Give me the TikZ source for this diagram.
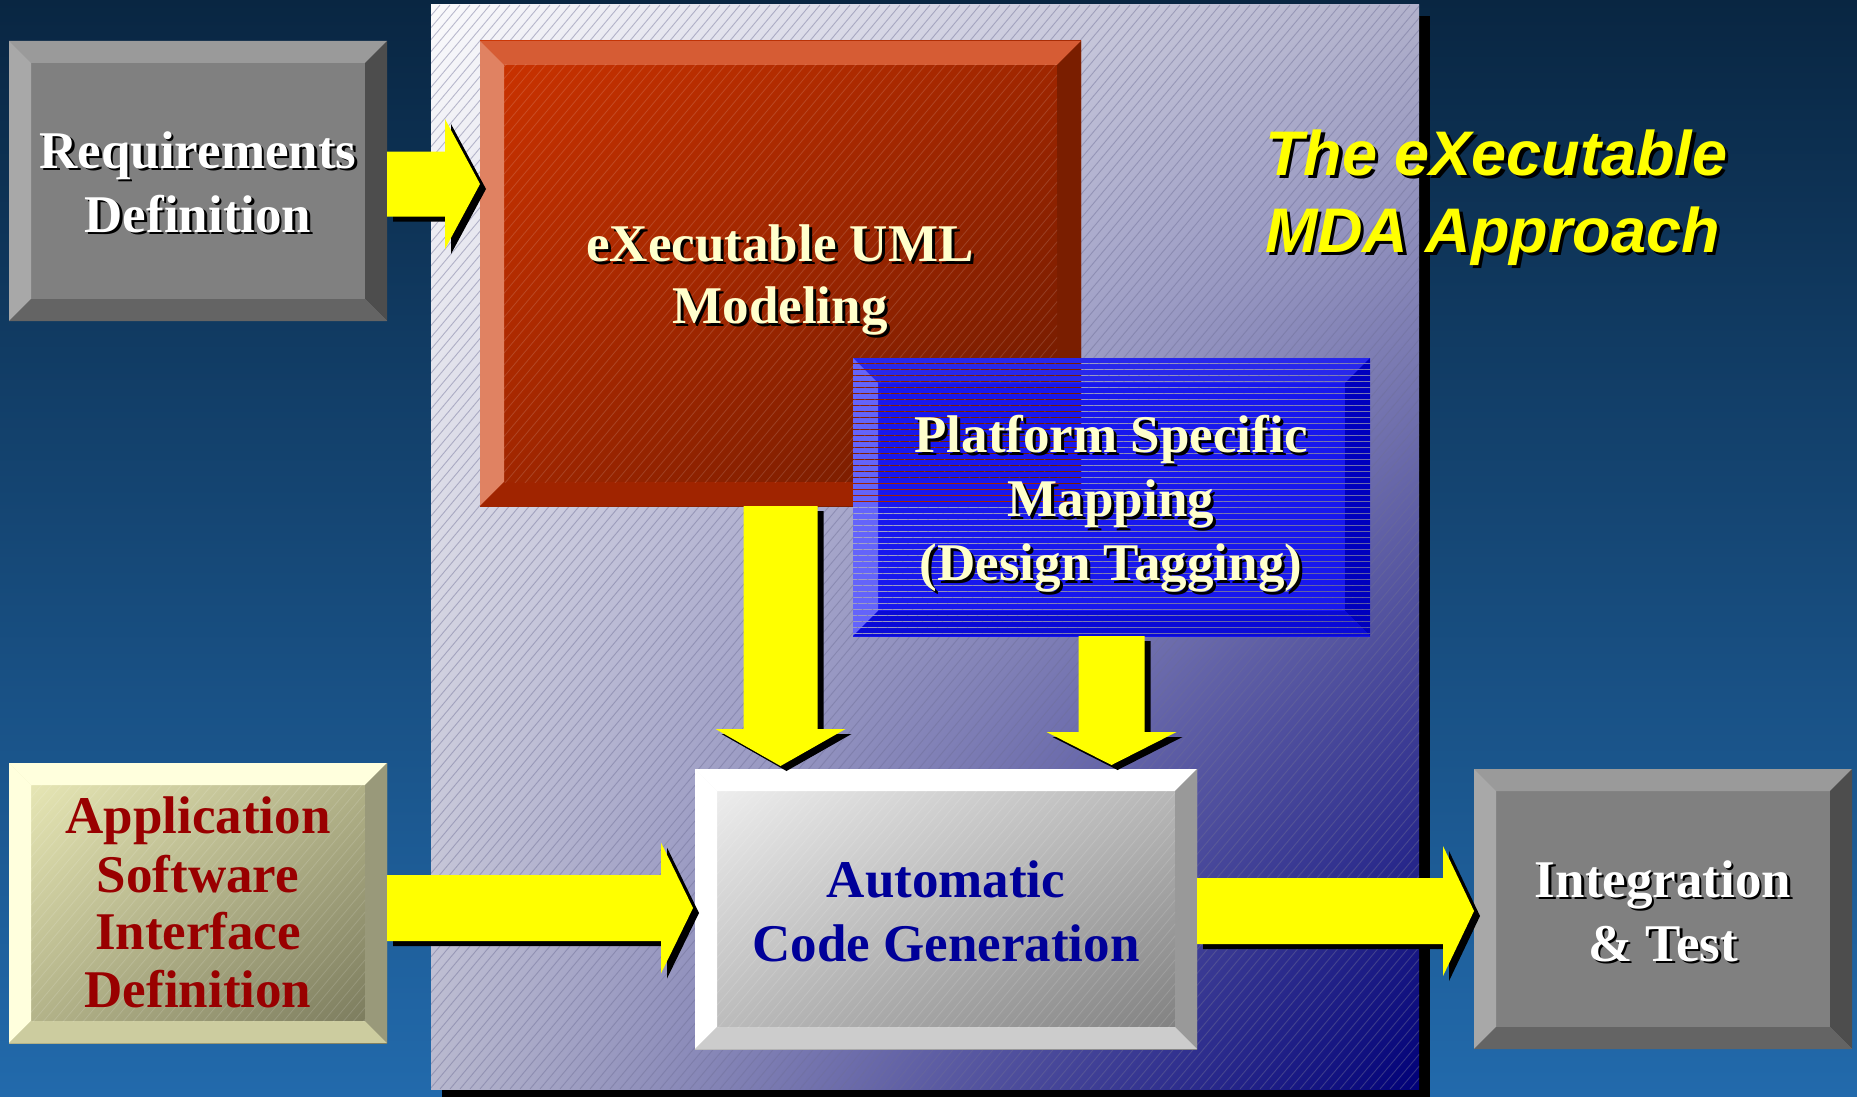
\documentclass[tikz,border=0pt]{standalone}
\usepackage{fontspec}
\setmainfont{Liberation Serif}
\newfontfamily\titlesans{Liberation Sans}
\usetikzlibrary{calc,shadings}

% palette
\definecolor{bgtop}{RGB}{9,38,66}
\definecolor{bgbottom}{RGB}{34,106,172}
\definecolor{panelUL}{RGB}{250,250,252}
\definecolor{panelUR}{RGB}{178,178,204}
\definecolor{panelLL}{RGB}{184,184,206}
\definecolor{panelLR}{RGB}{0,0,120}
\definecolor{hatchcol}{RGB}{110,110,150}
\definecolor{arrowyellow}{RGB}{255,255,0}
\definecolor{paleyellow}{RGB}{255,255,204}
\definecolor{codeblue}{RGB}{0,0,153}
\definecolor{asidred}{RGB}{153,0,0}
% grey boxes
\definecolor{greyface}{RGB}{128,128,128}
\definecolor{greytop}{RGB}{154,154,154}
\definecolor{greyleft}{RGB}{168,168,168}
\definecolor{greyright}{RGB}{77,77,77}
\definecolor{greybottom}{RGB}{100,100,100}
% red box
\definecolor{redUL}{RGB}{204,51,0}
\definecolor{redMid}{RGB}{160,38,0}
\definecolor{redLR}{RGB}{100,24,0}
\definecolor{redtop}{RGB}{214,92,52}
\definecolor{redleft}{RGB}{224,130,98}
\definecolor{redright}{RGB}{122,30,0}
\definecolor{redbottom}{RGB}{160,36,0}
% blue box
\definecolor{blueface}{RGB}{24,24,238}
\definecolor{bluetop}{RGB}{40,40,235}
\definecolor{blueleft}{RGB}{100,100,250}
\definecolor{blueright}{RGB}{0,0,190}
\definecolor{bluebottom}{RGB}{10,10,215}
% white box
\definecolor{whiteUL}{RGB}{244,244,244}
\definecolor{whiteMid}{RGB}{186,186,186}
\definecolor{whiteLR}{RGB}{122,122,122}
\definecolor{whitetop}{RGB}{255,255,255}
\definecolor{whiteleft}{RGB}{255,255,255}
\definecolor{whiteright}{RGB}{153,153,153}
\definecolor{whitebottom}{RGB}{204,204,204}
% cream box
\definecolor{creamUL}{RGB}{238,238,187}
\definecolor{creamMid}{RGB}{178,178,136}
\definecolor{creamLR}{RGB}{116,116,88}
\definecolor{creamtop}{RGB}{255,255,221}
\definecolor{creamleft}{RGB}{255,255,221}
\definecolor{creamright}{RGB}{153,153,122}
\definecolor{creambottom}{RGB}{204,204,159}

\tikzset{
  x=1pt, y=-1pt,
  boxframe/.style={shape=rectangle, inner sep=0pt, outer sep=0pt, draw=none},
  boxtext/.style={inner sep=0pt, outer sep=0pt, anchor=base,
    font=\fontsize{53}{60}\selectfont\bfseries},
  titletext/.style={inner sep=0pt, outer sep=0pt, anchor=base west, text=arrowyellow,
    font=\titlesans\fontsize{63}{70}\selectfont\bfseries\itshape},
  grey face/.style={fill=greyface},
  grey top/.style={fill=greytop},
  grey left/.style={fill=greyleft},
  grey right/.style={fill=greyright},
  grey bottom/.style={fill=greybottom},
  red face/.style={upper left=redUL, upper right=redMid, lower left=redMid, lower right=redLR},
  red top/.style={fill=redtop},
  red left/.style={fill=redleft},
  red right/.style={fill=redright},
  red bottom/.style={fill=redbottom},
  white face/.style={upper left=whiteUL, upper right=whiteMid, lower left=whiteMid, lower right=whiteLR},
  white top/.style={fill=whitetop},
  white left/.style={fill=whiteleft},
  white right/.style={fill=whiteright},
  white bottom/.style={fill=whitebottom},
  cream face/.style={upper left=creamUL, upper right=creamMid, lower left=creamMid, lower right=creamLR},
  cream top/.style={fill=creamtop},
  cream left/.style={fill=creamleft},
  cream right/.style={fill=creamright},
  cream bottom/.style={fill=creambottom},
  panel hatch/.style={draw=hatchcol, draw opacity=0.45, line width=0.9pt},
  face hatch/.style={draw=white, draw opacity=0.14, line width=0.8pt},
}

% text with a drop shadow behind it
\newcommand\shadowed[2]{\rlap{\kern#1\raisebox{-#1}{\color{black}#2}}#2}

% bevelled box: name, centre, width, height, bevel, kind
\newcommand\bevelbox[6]{%
  \node[boxframe, minimum width=#3, minimum height=#4] (#1) at (#2) {};
  \path[#6 face] (#1.north west) rectangle (#1.south east);
  \fill[#6 top] (#1.north west) -- (#1.north east) -- ([shift={(-#5,#5)}]#1.north east)
    -- ([shift={(#5,#5)}]#1.north west) -- cycle;
  \fill[#6 left] (#1.north west) -- ([shift={(#5,#5)}]#1.north west)
    -- ([shift={(#5,-#5)}]#1.south west) -- (#1.south west) -- cycle;
  \fill[#6 right] (#1.north east) -- (#1.south east) -- ([shift={(-#5,-#5)}]#1.south east)
    -- ([shift={(-#5,#5)}]#1.north east) -- cycle;
  \fill[#6 bottom] (#1.south west) -- ([shift={(#5,-#5)}]#1.south west)
    -- ([shift={(-#5,-#5)}]#1.south east) -- (#1.south east) -- cycle;
}

% diagonal hatching inside a box face: name, bevel, style
\newcommand\facehatch[3]{%
  \begin{scope}
    \clip ([shift={(#2,#2)}]#1.north west) rectangle ([shift={(-#2,-#2)}]#1.south east);
    \foreach \k in {-1100,-1090,...,1860} \draw[#3] (\k,1097) -- ++(920,-1097);
  \end{scope}
}

% block arrows with a black drop shadow: start, tip, half shaft, half head, head length
\newcommand\blockright[5]{%
  \foreach \dx/\dy/\col in {6/5/black,0/0/arrowyellow}{
    \fill[\col] ($(#1)+(\dx,\dy-#3)$) -- ($(#2)+(\dx-#5,\dy-#3)$) -- ($(#2)+(\dx-#5,\dy-#4)$)
      -- ($(#2)+(\dx,\dy)$) -- ($(#2)+(\dx-#5,\dy+#4)$) -- ($(#2)+(\dx-#5,\dy+#3)$)
      -- ($(#1)+(\dx,\dy+#3)$) -- cycle;
  }
}
\newcommand\blockdown[5]{%
  \foreach \dx/\dy/\col in {6/5/black,0/0/arrowyellow}{
    \fill[\col] ($(#1)+(\dx-#3,\dy)$) -- ($(#2)+(\dx-#3,\dy-#5)$) -- ($(#2)+(\dx-#4,\dy-#5)$)
      -- ($(#2)+(\dx,\dy)$) -- ($(#2)+(\dx+#4,\dy-#5)$) -- ($(#2)+(\dx+#3,\dy-#5)$)
      -- ($(#1)+(\dx+#3,\dy)$) -- cycle;
  }
}

\begin{document}
\begin{tikzpicture}
\useasboundingbox (0,0) rectangle (1857,1097);
\shade[top color=bgtop, bottom color=bgbottom] (0,0) rectangle (1857,1097);

% central panel with its shadow and hatching
\fill[black] (442,16) rectangle (1430,1097);
\shade[upper left=panelUL, upper right=panelUR, lower left=panelLL, lower right=panelLR]
  (431,5) rectangle (1419,1089);
\begin{scope}
  \clip (431,5) rectangle (1419,1089);
  \foreach \k in {-700,-690,...,1420} \draw[panel hatch] (\k,1089) -- ++(910,-1084);
\end{scope}

% title
\node[titletext] (title1) at (1265,175) {\shadowed{3.5pt}{The eXecutable}};
\node[titletext] (title2) at (1265,252) {\shadowed{3.5pt}{MDA Approach}};

% requirements
\bevelbox{req}{198,181}{378}{280}{22}{grey}
\node[boxtext, text=white] (req1) at (198,168) {\shadowed{2.5pt}{Requirements}};
\node[boxtext, text=white] (req2) at (198,232) {\shadowed{2.5pt}{Definition}};

% executable UML modeling
\bevelbox{xuml}{780.5,273.5}{601}{465}{24}{red}
\facehatch{xuml}{24}{face hatch}
\node[boxtext, text=paleyellow] (xuml1) at (780,261) {\shadowed{3pt}{eXecutable UML}};
\node[boxtext, text=paleyellow] (xuml2) at (780,323) {\shadowed{3pt}{Modeling}};

\coordinate (d1s) at (xuml.south);

% platform specific mapping, striped
\node[boxframe, minimum width=517, minimum height=278] (plat) at (1111.5,497) {};
\foreach \region/\col in {
  {(plat.north west) rectangle (plat.south east)}/blueface,
  {(plat.north west) -- (plat.north east) -- ([shift={(-25,25)}]plat.north east) -- ([shift={(25,25)}]plat.north west) -- cycle}/bluetop,
  {(plat.north west) -- ([shift={(25,25)}]plat.north west) -- ([shift={(25,-25)}]plat.south west) -- (plat.south west) -- cycle}/blueleft,
  {(plat.north east) -- (plat.south east) -- ([shift={(-25,-25)}]plat.south east) -- ([shift={(-25,25)}]plat.north east) -- cycle}/blueright,
  {(plat.south west) -- ([shift={(25,-25)}]plat.south west) -- ([shift={(-25,-25)}]plat.south east) -- (plat.south east) -- cycle}/bluebottom}{
  \begin{scope}
    \clip \region;
    \fill[\col] \foreach \yy in {0,6,...,276} {([shift={(0,\yy)}]plat.north west) rectangle ([shift={(0,\yy+4.8)}]plat.north east)};
  \end{scope}
}
\node[boxtext, text=paleyellow] (plat1) at (1111,452) {\shadowed{3pt}{Platform Specific}};
\node[boxtext, text=paleyellow] (plat2) at (1111,516) {\shadowed{3pt}{Mapping}};
\node[boxtext, text=paleyellow] (plat3) at (1111,580) {\shadowed{3pt}{(Design Tagging)}};

% automatic code generation
\bevelbox{code}{946,909}{502}{280}{22}{white}
\facehatch{code}{22}{face hatch}
\node[boxtext, text=codeblue] (code1) at (946,897) {Automatic};
\node[boxtext, text=codeblue] (code2) at (946,961) {Code Generation};

% application software interface definition
\bevelbox{asid}{198,903}{378}{280}{22}{cream}
\facehatch{asid}{22}{face hatch}
\node[boxtext, text=asidred] (asid1) at (198,833) {Application};
\node[boxtext, text=asidred] (asid2) at (198,892) {Software};
\node[boxtext, text=asidred] (asid3) at (198,949) {Interface};
\node[boxtext, text=asidred] (asid4) at (198,1007) {Definition};

% integration and test
\bevelbox{integ}{1663,909}{378}{280}{22}{grey}
\node[boxtext, text=white] (integ1) at (1663,897) {\shadowed{2.5pt}{Integration}};
\node[boxtext, text=white] (integ2) at (1663,961) {\shadowed{2.5pt}{\& Test}};

% flow arrows
\coordinate (a1s) at ($(req.east)+(0,3)$);
\coordinate (a1t) at (a1s -| xuml.west);
\blockright{a1s}{a1t}{32.5}{65}{35}

\coordinate (d1t) at ($(d1s |- code.north)+(0,-3)$);
\blockdown{d1s}{d1t}{37}{65}{37}

\coordinate (d2s) at (plat.south);
\coordinate (d2t) at ($(d2s |- code.north)+(0,-4)$);
\blockdown{d2s}{d2t}{33}{65}{33}

\coordinate (a3s) at ($(asid.east)+(0,5)$);
\coordinate (a3t) at ($(a3s -| code.west)+(-2,0)$);
\blockright{a3s}{a3t}{33}{65.5}{32}

\coordinate (a4s) at ($(code.east)+(0,2)$);
\coordinate (a4t) at (a4s -| integ.west);
\blockright{a4s}{a4t}{33}{65}{31}
\end{tikzpicture}
\end{document}
